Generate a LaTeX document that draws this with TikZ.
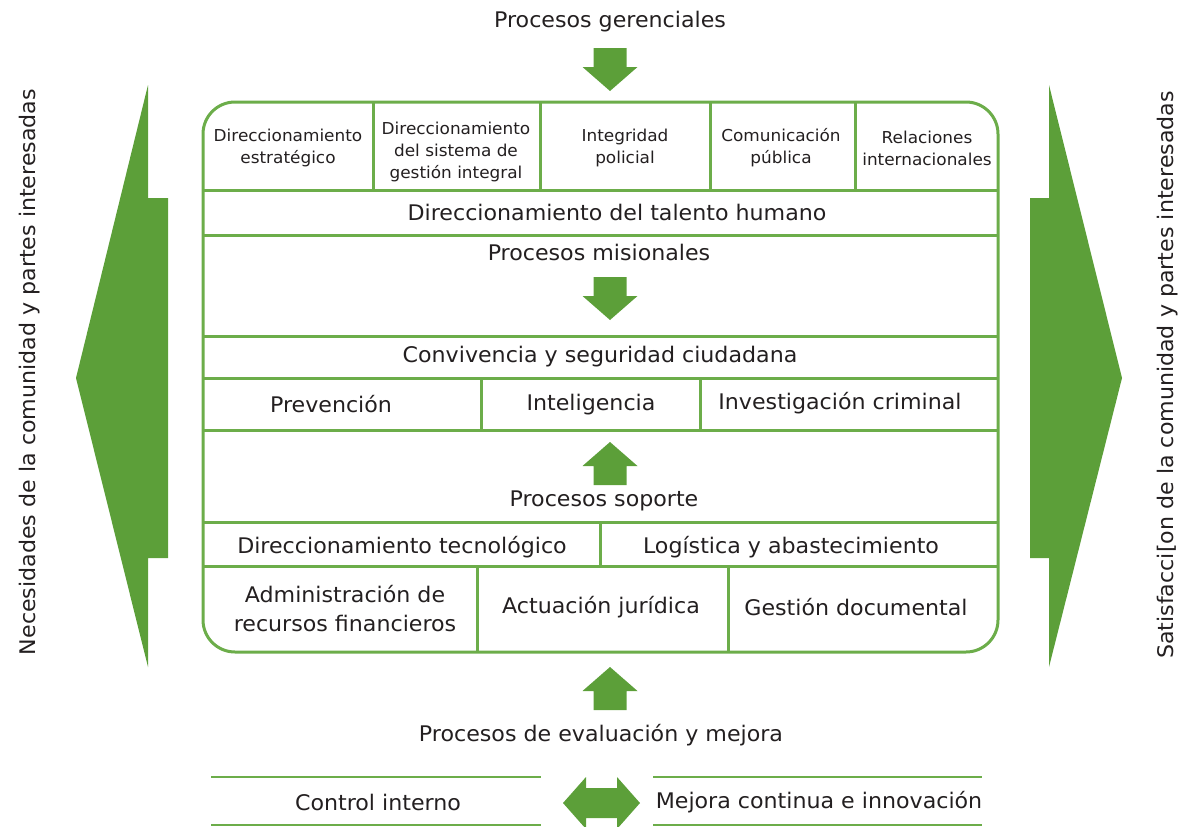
\documentclass[tikz,border=0pt]{standalone}
\usepackage{fontspec}
\setmainfont{DejaVu Sans}[FakeStretch=1.03]
\definecolor{pgreen}{RGB}{92,159,57}
\definecolor{lgreen}{RGB}{108,173,74}
\definecolor{txt}{RGB}{35,31,32}
\tikzset{
  big/.style={font=\fontsize{21.5}{24}\selectfont, text=txt, inner sep=0pt},
  small/.style={font=\fontsize{16.4}{22}\selectfont, text=txt, align=center, inner sep=0pt},
  frame/.style={draw=lgreen, line width=3pt},
  rule/.style={draw=lgreen, line width=2.5pt},
  downarr/.pic={\fill[pgreen] (-16.5,0)--(16.5,0)--(16.5,19)--(27.5,19)--(0,43)--(-27.5,19)--(-16.5,19)--cycle;},
  uparr/.pic={\fill[pgreen] (-16.5,0)--(16.5,0)--(16.5,-19)--(27.5,-19)--(0,-43)--(-27.5,-19)--(-16.5,-19)--cycle;}
}
\begin{document}
\begin{tikzpicture}[x=1pt,y=-1pt]
\useasboundingbox (0,0) rectangle (1187,827);
% side arrows
\fill[pgreen] (148,85)--(76,378)--(148,667)--(148,558)--(168,558)--(168,198)--(148,198)--cycle;
\fill[pgreen] (1049,85)--(1122,378)--(1049,667)--(1049,558)--(1030,558)--(1030,198)--(1049,198)--cycle;
% main frame
\draw[frame, rounded corners=32pt] (203,102) rectangle (998,652);
\draw[frame] (203,190)--(998,190);
\draw[frame] (203,235)--(998,235);
\draw[frame] (203,336)--(998,336);
\draw[frame] (203,378)--(998,378);
\draw[frame] (203,430)--(998,430);
\draw[frame] (203,522)--(998,522);
\draw[frame] (203,566)--(998,566);
\foreach \x in {373,540,710,855} \draw[frame] (\x,102)--(\x,190);
\foreach \x in {481,700} \draw[frame] (\x,378)--(\x,430);
\draw[frame] (600,522)--(600,566);
\foreach \x in {477,728} \draw[frame] (\x,566)--(\x,652);
% arrows
\pic at (610,48) {downarr};
\pic at (610,277) {downarr};
\pic at (610,485) {uparr};
\pic at (610,710) {uparr};
\fill[pgreen] (563,803)--(586,777)--(586,788)--(617,788)--(617,777)--(640,803)--(617,829)--(617,818)--(586,818)--(586,829)--cycle;
% texts
\node[big] (gerenciales) at (610,22) {Procesos gerenciales};
\node[small] (dirEst) at (288,148) {Direccionamiento\\estratégico};
\node[small] (dirSis) at (456,152) {Direccionamiento\\del sistema de\\gestión integral};
\node[small] (integ) at (625,148) {Integridad\\policial};
\node[small] (comun) at (781,148) {Comunicación\\pública};
\node[small] (relac) at (927,148) {Relaciones\\internacionales};
\node[big] (talento) at (617,212) {Direccionamiento del talento humano};
\node[big] (misionales) at (599,252) {Procesos misionales};
\node[big] (conviv) at (600,357) {Convivencia y seguridad ciudadana};
\node[big] (prev) at (331,404) {Prevención};
\node[big] (intel) at (591,405) {Inteligencia};
\node[big] (invest) at (840,403) {Investigación criminal};
\node[big] (soporte) at (604,501) {Procesos soporte};
\node[big] (dirTec) at (402,547) {Direccionamiento tecnológico};
\node[big] (logis) at (791,547) {Logística y abastecimiento};
\node[big, align=center, font=\fontsize{21.5}{29}\selectfont] (admin) at (345,609) {Administración de\\recursos financieros};
\node[big] (actua) at (601,607) {Actuación jurídica};
\node[big] (gestDoc) at (856,607) {Gestión documental};
\node[big] (evalua) at (601,735) {Procesos de evaluación y mejora};
\draw[rule] (211,777)--(541,777);
\draw[rule] (211,825)--(541,825);
\draw[rule] (653,777)--(982,777);
\draw[rule] (653,825)--(982,825);
\node[big] (control) at (378,802) {Control interno};
\node[big] (mejora) at (819,802) {Mejora continua e innovación};
\node[big, rotate=90] (necesid) at (30,372) {Necesidades de la comunidad y partes interesadas};
\node[big, rotate=90] (satisf) at (1168,375) {Satisfacci[on de la comunidad y partes interesadas};
\end{tikzpicture}
\end{document}
